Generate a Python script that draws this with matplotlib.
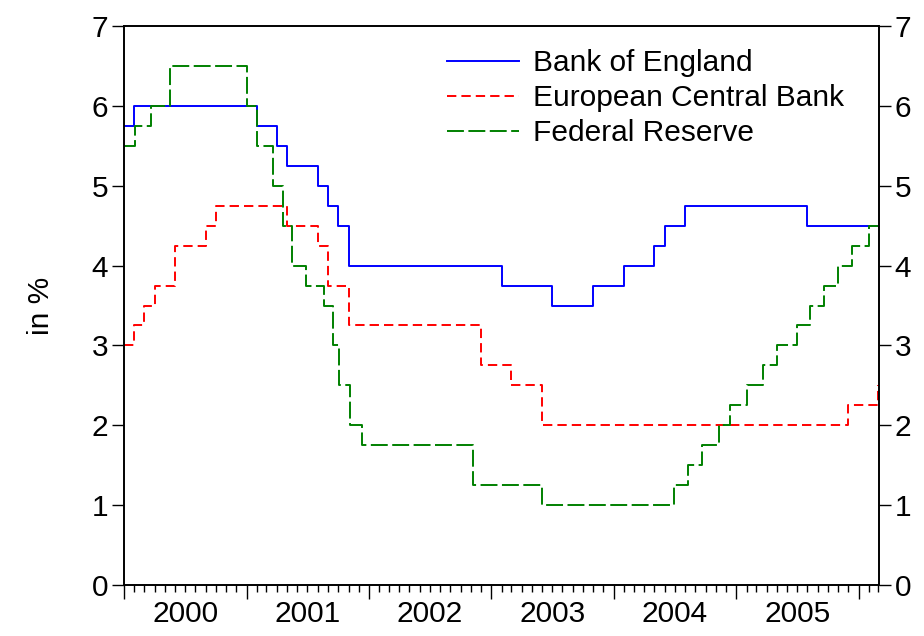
"""Policy rates of the Bank of England, ECB and Federal Reserve, 2000-2006."""

import matplotlib

matplotlib.use("Agg")
import matplotlib.dates as mdates
import matplotlib.pyplot as plt
import pandas as pd

# rate changes: date the new rate starts, rate in %
boe_dates = [
    "2000-01-01", "2000-02-01", "2001-02-01", "2001-04-01", "2001-05-01",
    "2001-08-01", "2001-09-01", "2001-10-01", "2001-11-01", "2003-02-01",
    "2003-07-01", "2003-11-01", "2004-02-01", "2004-05-01", "2004-06-01",
    "2004-08-01", "2005-08-01",
]
boe_rates = [5.75, 6.0, 5.75, 5.5, 5.25, 5.0, 4.75, 4.5, 4.0, 3.75,
             3.5, 3.75, 4.0, 4.25, 4.5, 4.75, 4.5]

ecb_dates = [
    "2000-01-01", "2000-02-01", "2000-03-01", "2000-04-01", "2000-06-01",
    "2000-09-01", "2000-10-01", "2001-05-01", "2001-08-01", "2001-09-01",
    "2001-11-01", "2002-12-01", "2003-03-01", "2003-06-01", "2005-12-01",
    "2006-03-01",
]
ecb_rates = [3.0, 3.25, 3.5, 3.75, 4.25, 4.5, 4.75, 4.5, 4.25, 3.75,
             3.25, 2.75, 2.5, 2.0, 2.25, 2.5]

fed_dates = [
    "2000-01-01", "2000-02-02", "2000-03-21", "2000-05-16", "2001-01-03",
    "2001-01-31", "2001-03-20", "2001-04-18", "2001-05-15", "2001-06-27",
    "2001-08-21", "2001-09-17", "2001-10-02", "2001-11-06", "2001-12-11",
    "2002-11-06", "2003-06-01", "2004-06-30", "2004-08-10", "2004-09-21",
    "2004-11-10", "2004-12-14", "2005-02-02", "2005-03-22", "2005-05-03",
    "2005-06-30", "2005-08-09", "2005-09-20", "2005-11-01", "2005-12-13",
    "2006-01-31",
]
fed_rates = [5.5, 5.75, 6.0, 6.5, 6.0, 5.5, 5.0, 4.5, 4.0, 3.75,
             3.5, 3.0, 2.5, 2.0, 1.75, 1.25, 1.0, 1.25, 1.5, 1.75,
             2.0, 2.25, 2.5, 2.75, 3.0, 3.25, 3.5, 3.75, 4.0, 4.25, 4.5]

years = [2000, 2001, 2002, 2003, 2004, 2005]
start, end = pd.Timestamp("2000-01-01"), pd.Timestamp("2006-03-01")

FONT = ["Liberation Sans", "DejaVu Sans"]
FS = 21.5
plt.rcParams["font.family"] = FONT


def step_series(dates, rates):
    s = pd.Series(rates, index=pd.to_datetime(dates))
    if s.index[-1] < end:
        s[end] = s.iloc[-1]
    return s


fig = plt.figure(figsize=(9.24, 6.36), dpi=100)
ax = fig.add_axes([124 / 924, 1 - 585 / 636, 754.5 / 924, 559 / 636])

lw = 1.4
boe = step_series(boe_dates, boe_rates)
ecb = step_series(ecb_dates, ecb_rates)
fed = step_series(fed_dates, fed_rates)
ax.plot(boe.index, boe.values, drawstyle="steps-post", color="#0000ff",
        lw=lw, label="Bank of England")
ax.plot(ecb.index, ecb.values, drawstyle="steps-post", color="#ff0000",
        lw=lw, dashes=(4.8, 2.6), label="European Central Bank")
ax.plot(fed.index, fed.values, drawstyle="steps-post", color="#008000",
        lw=lw, dashes=(8.7, 2.3), label="Federal Reserve")

ax.set_xlim(start, end)
ax.set_ylim(0, 7)
ax.set_yticks(range(8))
ax.xaxis.set_major_locator(mdates.YearLocator())
ax.xaxis.set_minor_locator(mdates.MonthLocator())
ax.xaxis.set_major_formatter(plt.NullFormatter())
ax.tick_params(axis="x", which="major", length=10, width=1.0, direction="out")
ax.tick_params(axis="x", which="minor", length=5, width=1.0, direction="out")
ax.tick_params(axis="y", length=8.5, width=1.0, direction="out",
               right=True, labelright=True, labelsize=FS, pad=3)
for sp in ax.spines.values():
    sp.set_linewidth(1.4)

for yr in years:
    mid = pd.Timestamp(f"{yr}-07-02")
    ax.annotate(str(yr), xy=(mid, 0), xycoords=("data", "axes fraction"),
                xytext=(0, -11), textcoords="offset points",
                ha="center", va="top", fontsize=FS)

ax.set_ylabel("in %", fontsize=FS, labelpad=26)

ax.legend(loc="upper left", bbox_to_anchor=(0.428, 0.958), frameon=False,
          fontsize=FS, handlelength=2.4, handletextpad=0.47,
          labelspacing=0.23, borderpad=0, borderaxespad=0)

fig.savefig("out.png", dpi=100)
